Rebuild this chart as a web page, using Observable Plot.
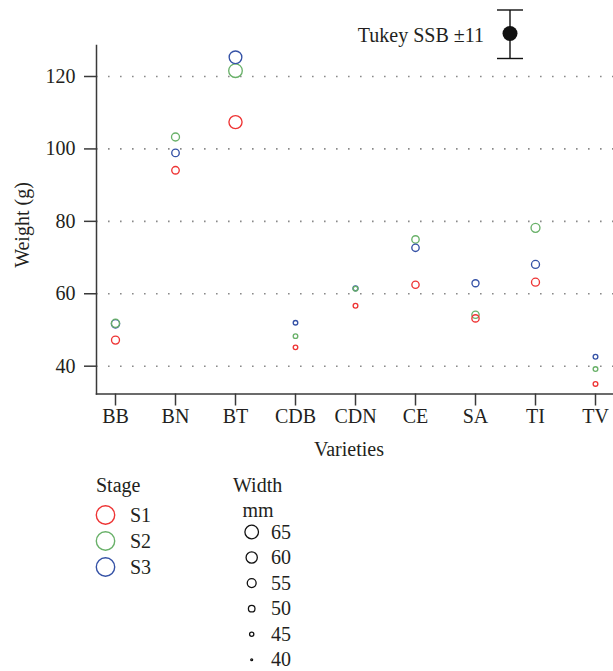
<!DOCTYPE html>
<html><head><meta charset="utf-8">
<script src="https://cdn.jsdelivr.net/npm/d3@7"></script>
<script src="https://cdn.jsdelivr.net/npm/@observablehq/plot@0.6"></script>
<style>
body{margin:0;background:#fff}
#chart svg{display:block}
</style></head><body><div id="chart"></div>
<script>
const varieties = ["BB","BN","BT","CDB","CDN","CE","SA","TI","TV"];
const stages = ["S1","S2","S3"];
const weightS1 = [47.2, 94.1, 107.4, 45.2, 56.7, 62.5, 53.2, 63.2, 35.1];
const weightS2 = [51.85, 103.3, 121.6, 48.3, 61.4, 75.0, 54.2, 78.2, 39.2];
const weightS3 = [51.7, 98.9, 125.3, 52.0, 61.5, 72.7, 62.9, 68.1, 42.6];
const widthS1 = [53, 52, 64, 45.7, 46, 51.5, 51.5, 53, 46];
const widthS2 = [53.4, 53, 65, 45.7, 46, 51.7, 51.5, 55, 46];
const widthS3 = [53.6, 52, 63, 45.7, 46.5, 51.7, 51, 53, 46];
const yTicks = [40, 60, 80, 100, 120];
const widthLegend = [65, 60, 55, 50, 45, 40];
const stageColors = ["#ee3434", "#69b169", "#3552a6"];
const tukeyLabel = "Tukey SSB \u00b111";
const xTitle = "Varieties";
const yTitle = "Weight (g)";
const stageTitle = "Stage";
const widthTitle = ["Width", "mm"];

const byStage = {S1: [weightS1, widthS1], S2: [weightS2, widthS2], S3: [weightS3, widthS3]};
const drawOrder = ["S2", "S1", "S3"];
const rows = [];
for (const s of drawOrder) {
  varieties.forEach((v, i) => rows.push({variety: v, stage: s, weight: byStage[s][0][i], width: byStage[s][1][i]}));
}

const font = "'Liberation Serif', 'Times New Roman', serif";
const ink = "#231f20";
const axisInk = "#3a3a3a";

const plot = Plot.plot({
  width: 613, height: 671,
  marginTop: 45, marginBottom: 277.5, marginLeft: 96, marginRight: 0,
  style: {fontFamily: font, fontSize: "20px", color: ink, background: "#fff", overflow: "visible"},
  x: {type: "point", domain: varieties, padding: 0.25, label: null},
  y: {domain: [32.32, 128.56], label: null},
  r: {type: "linear", domain: [40, 65], range: [0.95, 6.8]},
  color: {domain: stages, range: stageColors},
  marks: [
    Plot.ruleY(yTicks, {stroke: "#8a8a8a", strokeWidth: 1.6, strokeDasharray: "1.6 10.4"}),
    Plot.frame({anchor: "left", stroke: axisInk, strokeWidth: 1.5}),
    Plot.frame({anchor: "bottom", stroke: axisInk, strokeWidth: 1.5}),
    Plot.axisY(yTicks, {tickSize: 12, tickPadding: 9, stroke: axisInk, strokeWidth: 1.5, fill: ink, label: null, fontSize: 20}),
    Plot.axisX({tickSize: 12, tickPadding: 3, stroke: axisInk, strokeWidth: 1.5, fill: ink, label: null, fontSize: 20}),
    Plot.dot(rows, {x: "variety", y: "weight", r: "width", stroke: "stage", strokeWidth: 1.35, fill: "none"}),
    Plot.text([xTitle], {text: d => d, frameAnchor: "bottom", dy: 61.5, dx: -6, fill: ink, fontSize: 20})
  ]
});

const svg = d3.select(plot);
const color = plot.scale("color");
const rScale = plot.scale("r");

// y title
svg.append("text")
  .attr("transform", "translate(29,225) rotate(-90)")
  .attr("text-anchor", "middle").attr("fill", ink).attr("font-size", 20)
  .text(yTitle);

// Tukey SSB indicator
const tk = svg.append("g").attr("stroke", "#111").attr("stroke-width", 1.4);
tk.append("line").attr("x1", 510).attr("x2", 510).attr("y1", 10).attr("y2", 58.5);
tk.append("line").attr("x1", 497).attr("x2", 523).attr("y1", 10).attr("y2", 10);
tk.append("line").attr("x1", 497).attr("x2", 523).attr("y1", 58.5).attr("y2", 58.5);
tk.append("circle").attr("cx", 510).attr("cy", 33.5).attr("r", 7.5).attr("fill", "#111").attr("stroke", "none");
svg.append("text").attr("x", 484).attr("y", 41.5).attr("text-anchor", "end")
  .attr("fill", ink).attr("font-size", 20).text(tukeyLabel);

// Stage legend
const lg = svg.append("g").attr("font-size", 20).attr("fill", ink).attr("text-anchor", "start");
lg.append("text").attr("x", 96).attr("y", 491.5).text(stageTitle);
stages.forEach((s, i) => {
  const cy = 515 + i * 26;
  lg.append("circle").attr("cx", 105.5).attr("cy", cy).attr("r", 9.2).attr("fill", "none")
    .attr("stroke", color.apply(s)).attr("stroke-width", 1.4);
  lg.append("text").attr("x", 130).attr("y", cy).attr("dy", "0.35em").text(s);
});

// Width legend
lg.append("text").attr("x", 233).attr("y", 491.5).text(widthTitle[0]);
lg.append("text").attr("x", 242.5).attr("y", 516.5).text(widthTitle[1]);
widthLegend.forEach((w, i) => {
  const cy = 532 + i * 25.55;
  lg.append("circle").attr("cx", 251.7).attr("cy", cy).attr("r", rScale.apply(w)).attr("fill", "none")
    .attr("stroke", "#111").attr("stroke-width", 1.3);
  lg.append("text").attr("x", 271).attr("y", cy).attr("dy", "0.33em").text(w);
});

document.getElementById("chart").appendChild(plot);
</script>
</body></html>
